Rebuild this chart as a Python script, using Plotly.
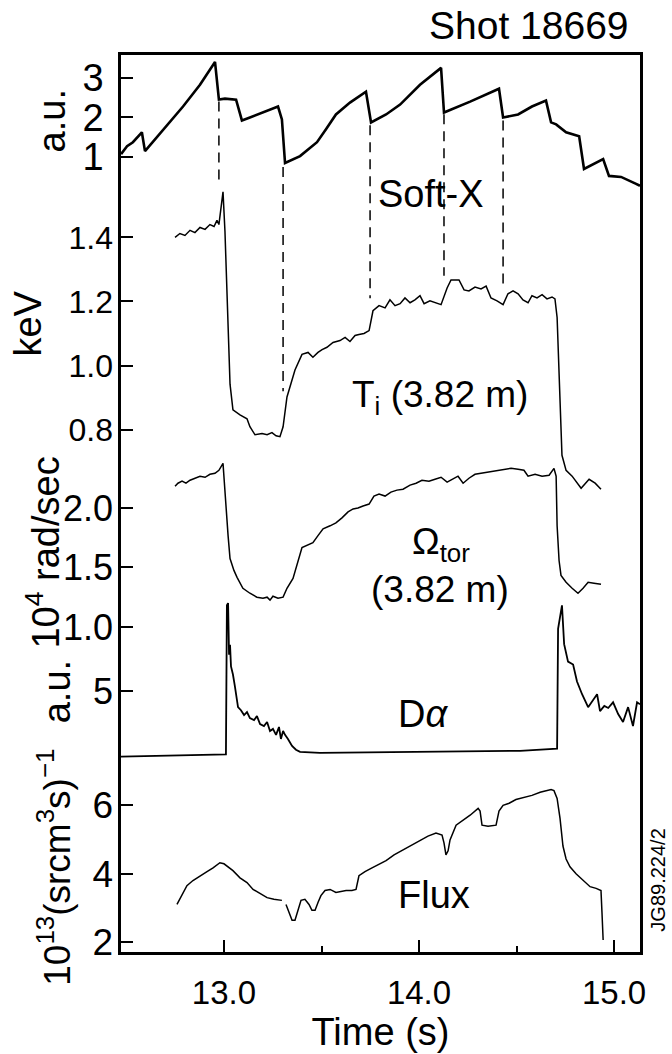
import plotly.graph_objects as go

# ---------------- data ----------------
sx_t = [12.472, 12.503, 12.533, 12.579, 12.595, 12.708, 12.790, 12.877, 12.954, 12.974,
        13.005, 13.062, 13.092, 13.133, 13.210, 13.277, 13.297, 13.313, 13.390, 13.477,
        13.523, 13.574, 13.646, 13.728, 13.754, 13.831, 13.903, 14.005, 14.113, 14.128,
        14.262, 14.410, 14.431, 14.508, 14.579, 14.651, 14.677, 14.703, 14.754, 14.821,
        14.846, 14.944, 14.974, 15.036, 15.113, 15.133]
sx_v = [1.075, 1.275, 1.375, 1.625, 1.15, 1.8, 2.275, 2.825, 3.4, 2.45,
        2.475, 2.45, 1.925, 2.0, 2.15, 2.275, 1.95, 0.85, 1.025, 1.375,
        1.7, 2.075, 2.375, 2.65, 1.875, 2.075, 2.325, 2.825, 3.25, 2.125,
        2.4, 2.725, 2.0, 2.075, 2.275, 2.425, 1.875, 1.825, 1.625, 1.525,
        0.7, 0.95, 0.525, 0.5, 0.325, 0.275]

ti_t = [12.749, 12.774, 12.800, 12.826, 12.851, 12.877, 12.903, 12.928, 12.949, 12.964,
        12.974, 12.995, 13.005, 13.021, 13.031, 13.046, 13.082, 13.118, 13.133, 13.159,
        13.195, 13.221, 13.246, 13.267, 13.287, 13.303, 13.323, 13.364, 13.400, 13.431,
        13.456, 13.482, 13.503, 13.528, 13.559, 13.595, 13.621, 13.646, 13.672, 13.692,
        13.718, 13.744, 13.764, 13.795, 13.826, 13.851, 13.877, 13.903, 13.928, 13.954,
        13.979, 14.005, 14.026, 14.056, 14.087, 14.113, 14.144, 14.164, 14.205, 14.231,
        14.256, 14.287, 14.318, 14.344, 14.369, 14.400, 14.431, 14.456, 14.482, 14.508,
        14.533, 14.559, 14.579, 14.605, 14.631, 14.656, 14.682, 14.697, 14.708, 14.718,
        14.728, 14.733, 14.754, 14.785, 14.831, 14.872, 14.903, 14.933]
ti_v = [1.400, 1.412, 1.406, 1.422, 1.415, 1.431, 1.425, 1.440, 1.434, 1.453,
        1.440, 1.542, 1.419, 1.109, 0.942, 0.862, 0.846, 0.834, 0.809, 0.784,
        0.788, 0.784, 0.791, 0.781, 0.778, 0.809, 0.902, 0.986, 1.035, 1.041,
        1.026, 1.041, 1.050, 1.057, 1.072, 1.078, 1.088, 1.075, 1.094, 1.097,
        1.100, 1.109, 1.171, 1.187, 1.180, 1.205, 1.187, 1.193, 1.211, 1.196,
        1.205, 1.218, 1.193, 1.202, 1.196, 1.190, 1.242, 1.267, 1.267, 1.236,
        1.233, 1.245, 1.239, 1.248, 1.211, 1.202, 1.190, 1.224, 1.233, 1.224,
        1.205, 1.196, 1.218, 1.211, 1.221, 1.208, 1.214, 1.208, 1.150, 0.960,
        0.800, 0.720, 0.673, 0.655, 0.617, 0.645, 0.633, 0.614]

om_t = [12.749, 12.764, 12.785, 12.805, 12.826, 12.851, 12.877, 12.903, 12.928, 12.954,
        12.974, 12.995, 13.005, 13.021, 13.031, 13.051, 13.067, 13.097, 13.133, 13.169,
        13.200, 13.221, 13.236, 13.251, 13.277, 13.303, 13.323, 13.354, 13.400, 13.431,
        13.456, 13.482, 13.508, 13.544, 13.574, 13.605, 13.636, 13.662, 13.687, 13.713,
        13.744, 13.769, 13.795, 13.826, 13.856, 13.887, 13.918, 13.954, 13.985, 14.015,
        14.051, 14.082, 14.113, 14.144, 14.174, 14.200, 14.226, 14.256, 14.287, 14.318,
        14.349, 14.379, 14.410, 14.441, 14.472, 14.508, 14.538, 14.559, 14.595, 14.631,
        14.667, 14.692, 14.703, 14.708, 14.718, 14.728, 14.754, 14.785, 14.815, 14.841,
        14.867, 14.897, 14.933]
om_v = [2.183, 2.208, 2.225, 2.208, 2.233, 2.250, 2.267, 2.258, 2.283, 2.292,
        2.317, 2.375, 2.125, 1.767, 1.575, 1.475, 1.417, 1.325, 1.283, 1.250,
        1.242, 1.250, 1.225, 1.258, 1.242, 1.250, 1.325, 1.408, 1.667, 1.692,
        1.708, 1.767, 1.825, 1.850, 1.875, 1.917, 1.967, 1.992, 2.000, 2.017,
        2.033, 2.100, 2.117, 2.100, 2.133, 2.150, 2.158, 2.192, 2.208, 2.233,
        2.225, 2.242, 2.258, 2.217, 2.242, 2.267, 2.208, 2.250, 2.283, 2.292,
        2.300, 2.308, 2.317, 2.325, 2.333, 2.325, 2.317, 2.267, 2.283, 2.267,
        2.275, 2.333, 2.267, 1.850, 1.558, 1.433, 1.375, 1.325, 1.283, 1.325,
        1.375, 1.367, 1.358]

da_t = [12.472, 12.672, 12.877, 13.010, 13.015, 13.021, 13.026, 13.031, 13.036, 13.046,
        13.056, 13.067, 13.072, 13.087, 13.103, 13.118, 13.133, 13.154, 13.169, 13.185,
        13.205, 13.221, 13.236, 13.251, 13.267, 13.282, 13.292, 13.303, 13.313, 13.328,
        13.349, 13.369, 13.390, 13.492, 13.903, 14.210, 14.518, 14.708, 14.713, 14.733,
        14.744, 14.764, 14.790, 14.810, 14.836, 14.867, 14.887, 14.913, 14.928, 14.950,
        14.970, 14.995, 15.021, 15.046, 15.072, 15.097, 15.118, 15.133]
da_v = [0.30, 0.35, 0.38, 0.45, 11.2, 11.36, 7.64, 8.36, 6.79, 6.21,
        5.36, 4.43, 3.86, 3.64, 3.29, 3.50, 3.07, 2.93, 3.21, 2.64,
        2.50, 2.79, 2.14, 2.29, 1.86, 2.43, 1.57, 2.14, 1.86, 1.57,
        1.07, 0.79, 0.64, 0.57, 0.64, 0.71, 0.71, 0.86, 9.50, 11.20,
        8.40, 7.14, 6.93, 5.71, 4.79, 3.86, 4.29, 4.79, 3.57, 3.95,
        3.80, 4.21, 3.36, 2.79, 3.86, 2.50, 4.21, 4.07]

fl_t = [12.759, 12.785, 12.810, 12.841, 12.877, 12.913, 12.944, 12.964, 12.979, 13.000,
        13.015, 13.046, 13.082, 13.118, 13.149, 13.185, 13.221, 13.256, 13.297, None,
        13.318, 13.333, 13.349, 13.364, 13.379, 13.395, 13.415, 13.436, 13.451, 13.467,
        13.482, 13.497, 13.518, 13.544, 13.574, 13.626, 13.656, 13.677, 13.692, 13.723,
        13.759, 13.800, 13.831, 13.872, 13.918, 13.964, 14.005, 14.046, 14.087, 14.118,
        14.128, 14.138, 14.149, 14.159, 14.190, 14.221, 14.262, 14.303, 14.313, 14.323,
        14.354, 14.395, 14.410, 14.431, 14.462, 14.497, 14.538, 14.579, 14.621, 14.651,
        14.677, 14.692, 14.708, 14.723, 14.738, 14.754, 14.774, 14.805, 14.841, 14.877,
        14.908, 14.933, 14.938, 14.944]
fl_v = [3.10, 3.36, 3.65, 3.80, 3.94, 4.06, 4.17, 4.26, 4.32, 4.29,
        4.23, 4.09, 3.88, 3.74, 3.54, 3.42, 3.30, 3.25, 3.22, None,
        3.10, 2.87, 2.64, 2.64, 2.93, 3.22, 3.25, 3.10, 2.93, 2.93,
        3.16, 3.36, 3.51, 3.54, 3.45, 3.51, 3.51, 3.54, 3.94, 4.06,
        4.17, 4.29, 4.38, 4.55, 4.70, 4.84, 4.96, 5.10, 5.19, 5.13,
        4.90, 4.55, 4.67, 4.99, 5.42, 5.54, 5.71, 5.91, 5.83, 5.42,
        5.39, 5.42, 5.83, 6.00, 6.06, 6.17, 6.23, 6.29, 6.38, 6.43,
        6.46, 6.43, 6.20, 5.62, 4.81, 4.43, 4.20, 4.00, 3.80, 3.62,
        3.57, 3.51, 2.87, 2.06]

# sawtooth crash times (dashed markers) and the values they join
crash_t = [12.974, 13.303, 13.749, 14.128, 14.431]
crash_sx = [2.40, 0.75, 1.80, 2.08, 1.92]
crash_ti = [1.56, 0.92, 1.21, 1.28, 1.25]

x_ticks = [13.0, 14.0, 15.0]
x_ticktext = ["13.0", "14.0", "15.0"]
x_minor = [13.5, 14.5]
sx_ticks = [1, 2, 3]
ti_ticks = [0.8, 1.0, 1.2, 1.4]
om_ticks = [1.0, 1.5, 2.0]
da_ticks = [5]
fl_ticks = [2, 4, 6]

# ---------------- geometry ----------------
W, H = 672, 1054
L, R, T, B = 121, 32, 55, 94
PT, PB = T, H - B  # plot top/bottom pixel
PL, PR = L, W - R


def yrange(v1, p1, v2, p2):
    s = (p2 - p1) / (v1 - v2)
    return [v1 - (PB - p1) / s, v1 + (p1 - PT) / s]


sx_rng = yrange(3, 78, 1, 158)
ti_rng = yrange(1.4, 239, 0.8, 433)
om_rng = yrange(2.0, 512, 1.0, 632)
da_rng = yrange(5, 697, 0, 767)
fl_rng = yrange(6, 812, 2, 950)


def to_paper(v, rng):
    return (v - rng[0]) / (rng[1] - rng[0])


def P(px, py):
    return (px - PL) / (PR - PL), (PB - py) / (PB - PT)


FONT = "Liberation Sans, Arial, Helvetica, sans-serif"
BLK = "black"

fig = go.Figure()
fig.add_trace(go.Scatter(x=sx_t, y=sx_v, mode="lines", yaxis="y",
                         line=dict(color=BLK, width=2.6), name="Soft-X"))
fig.add_trace(go.Scatter(x=ti_t, y=ti_v, mode="lines", yaxis="y2",
                         line=dict(color=BLK, width=1.5), name="Ti"))
fig.add_trace(go.Scatter(x=om_t, y=om_v, mode="lines", yaxis="y3",
                         line=dict(color=BLK, width=1.5), name="Omega"))
fig.add_trace(go.Scatter(x=da_t, y=da_v, mode="lines", yaxis="y4",
                         line=dict(color=BLK, width=1.8), name="Dalpha"))
fig.add_trace(go.Scatter(x=fl_t, y=fl_v, mode="lines", yaxis="y5", connectgaps=False,
                         line=dict(color=BLK, width=1.5), name="Flux"))

for t, a, b in zip(crash_t, crash_sx, crash_ti):
    fig.add_shape(type="line", xref="x", yref="paper", x0=t, x1=t,
                  y0=to_paper(a, sx_rng), y1=to_paper(b, ti_rng),
                  line=dict(color=BLK, width=1.5, dash="10px,7px"))

common = dict(domain=[0, 1], anchor="x", side="left", showgrid=False, zeroline=False,
              ticks="inside", ticklen=12, tickwidth=2, tickcolor=BLK,
              ticklabelstandoff=7, fixedrange=True)


def yax(rng, vals, size, **kw):
    d = dict(common)
    d.update(range=rng, tickmode="array", tickvals=vals,
             ticktext=[("%g" % v) if isinstance(v, int) else ("%.1f" % v) for v in vals],
             tickfont=dict(family=FONT, size=size, color=BLK))
    d.update(kw)
    return d


layout = dict(
    width=W, height=H, margin=dict(l=L, r=R, t=T, b=B),
    plot_bgcolor="white", paper_bgcolor="white", showlegend=False,
    xaxis=dict(range=[12.472, 15.133], tickmode="array", tickvals=x_ticks, ticktext=x_ticktext,
               ticks="inside", ticklen=12, tickwidth=2, tickcolor=BLK,
               minor=dict(tickvals=x_minor, ticks="inside", ticklen=6, tickwidth=2, tickcolor=BLK),
               showline=True, linewidth=2.5, linecolor=BLK, mirror=True,
               showgrid=False, zeroline=False, ticklabelstandoff=10,
               tickfont=dict(family=FONT, size=33, color=BLK),
               title=dict(text="Time (s)", font=dict(family=FONT, size=38, color=BLK), standoff=4),
               fixedrange=True),
    yaxis=yax(sx_rng, sx_ticks, 38, showline=True, linewidth=2.5, linecolor=BLK, mirror=True),
    yaxis2=yax(ti_rng, ti_ticks, 32, overlaying="y"),
    yaxis3=yax(om_rng, om_ticks, 36, overlaying="y"),
    yaxis4=yax(da_rng, da_ticks, 36, overlaying="y"),
    yaxis5=yax(fl_rng, fl_ticks, 37, overlaying="y"),
)
fig.update_layout(**layout)


def ann(text, px, py, size, angle=0, xanchor="center"):
    x, y = P(px, py)
    fig.add_annotation(text=text, x=x, y=y, xref="paper", yref="paper", showarrow=False,
                       xanchor=xanchor, yanchor="middle", textangle=angle,
                       font=dict(family=FONT, size=size, color=BLK))


ann("Shot 18669", 529, 25, 39)
ann("Soft-X", 431, 195, 38)
ann("T<sub>i</sub> (3.82 m)", 440, 400, 37)
ann("Ω<sub>tor</sub>", 441, 548, 37)
ann("(3.82 m)", 440, 594, 37)
ann("D<i>α</i>", 423, 720, 38)
ann("Flux", 434, 902, 38)
ann("JG89.224/2", 658, 888, 20, angle=-90)
ann("a.u.", 52, 122, 38, angle=-90)
ann("keV", 28, 326, 38, angle=-90)
ann("10<sup>4</sup> rad/sec", 43, 557, 38, angle=-90)
ann("a.u.", 57, 698, 38, angle=-90)
ann("10<sup>13</sup>(srcm<sup>3</sup>s)<sup>−1</sup>", 55, 875, 37, angle=-90)

fig.write_html("out.html")
